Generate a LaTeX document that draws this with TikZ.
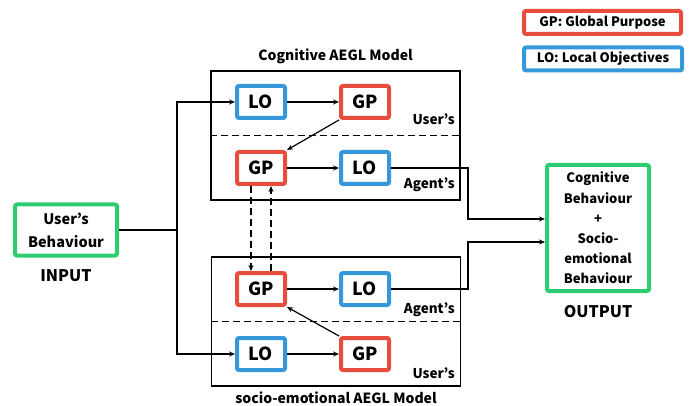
\documentclass[tikz,border=0pt]{standalone}
\usepackage{fontspec}
\setmainfont{Noto Sans CJK JP}
\usetikzlibrary{arrows.meta}
\definecolor{gpred}{RGB}{231,76,60}
\definecolor{loblue}{RGB}{52,152,219}
\definecolor{iogreen}{RGB}{46,204,113}

\begin{document}
\begin{tikzpicture}[x = 1pt, y = -1pt,
	goal/.style = {draw, line width = 4pt, rounded corners = 2pt, minimum width = 48pt, minimum height = 32pt, inner sep = 0pt, font = \fontsize{18}{20}\selectfont\bfseries},
	gp/.style = {goal, draw = gpred},
	lo/.style = {goal, draw = loblue},
	key/.style = {draw, line width = 4pt, rounded corners = 2pt, minimum height = 23pt, inner sep = 0pt, font = \fontsize{13}{15}\selectfont\bfseries},
	io/.style = {draw = iogreen, line width = 4pt, rounded corners = 2pt, minimum width = 102pt, inner sep = 0pt, align = center},
	model/.style = {draw, line width = 1.2pt, minimum width = 249pt, minimum height = 129pt, inner sep = 0pt},
	who/.style = {anchor = base east, inner sep = 0pt, font = \fontsize{13.5}{16}\selectfont\bfseries},
	title/.style = {anchor = base, inner sep = 0pt, font = \fontsize{14}{16}\selectfont\bfseries},
	split line/.style = {line width = 1.2pt, dash pattern = on 7pt off 4pt},
	arr/.style = {line width = 1.2pt, -{Stealth[length = 6pt, width = 5pt]}}]

	\useasboundingbox (0, 0) rectangle (693, 406);

	% legend
	\node[key, draw = gpred, minimum width = 157pt] (keyGP) at (602.5, 22.5) {GP: Global Purpose};
	\node[key, draw = loblue, minimum width = 158pt] (keyLO) at (603, 59) {LO: Local Objectives};

	% the two models
	\node[model] (cogModel) at (335.5, 135.5) {};
	\draw[split line] (cogModel.west) -- (cogModel.east);
	\node[title] (cogTitle) at (335.5, 61) {Cognitive AEGL Model};
	\node[who] (cogUser) at (455, 125) {User’s};
	\node[who] (cogAgent) at (455, 189) {Agent’s};

	\node[model] (socModel) at (336, 321.5) {};
	\draw[split line] (socModel.west) -- (socModel.east);
	\node[title] (socTitle) at (336, 403) {socio-emotional AEGL Model};
	\node[who] (socAgent) at (455, 313) {Agent’s};
	\node[who] (socUser) at (455, 378) {User’s};

	\node[lo] (cogUserLO) at (261, 102) {LO};
	\node[gp] (cogUserGP) at (365, 102) {GP};
	\node[gp] (cogAgentGP) at (261, 168) {GP};
	\node[lo] (cogAgentLO) at (365, 168) {LO};

	\node[gp] (socAgentGP) at (261, 289) {GP};
	\node[lo] (socAgentLO) at (365, 289) {LO};
	\node[lo] (socUserLO) at (261, 354) {LO};
	\node[gp] (socUserGP) at (365, 354) {GP};

	% input and output
	\node[io, minimum height = 51pt, font = \fontsize{14.5}{23}\selectfont\bfseries] (input) at (66, 230) {User’s\\Behaviour};
	\node[title, font = \fontsize{16}{18}\selectfont\bfseries] (inLabel) at (66, 281) {INPUT};
	\node[io, minimum height = 126pt, font = \fontsize{13}{20.2}\selectfont\bfseries] (output) at (598, 228) {Cognitive\\Behaviour\\+\\Socio-\\emotional\\Behaviour};
	\node[title, font = \fontsize{16}{18}\selectfont\bfseries] (outLabel) at (598, 317) {OUTPUT};

	\coordinate (split) at (177, 230);
	\coordinate (bend) at (468, 0);

	\draw[line width = 1.2pt] (input.east) -- (split);
	\draw[arr] (split) |- (cogUserLO.west);
	\draw[arr] (split) |- (socUserLO.west);

	\draw[arr] (cogUserLO) -- (cogUserGP);
	\draw[arr] (cogUserGP.south west) -- (cogAgentGP.north east);
	\draw[arr] (cogAgentGP) -- (cogAgentLO);

	\draw[arr] (socUserLO) -- (socUserGP);
	\draw[arr] (socUserGP.north west) -- (socAgentGP.south east);
	\draw[arr] (socAgentGP) -- (socAgentLO);

	\draw[arr, dash pattern = on 7pt off 4pt] ([xshift = -10pt]cogAgentGP.south) -- ([xshift = -10pt]socAgentGP.north);
	\draw[arr, dash pattern = on 7pt off 4pt] ([xshift = 10pt]socAgentGP.north) -- ([xshift = 10pt]cogAgentGP.south);

	\draw[arr] (cogAgentLO.east) -- (cogAgentLO.east -| bend) |- ([yshift = 9pt]output.west);
	\draw[arr] (socAgentLO.east) -- (socAgentLO.east -| bend) |- ([yshift = -14pt]output.west);

\end{tikzpicture}
\end{document}
